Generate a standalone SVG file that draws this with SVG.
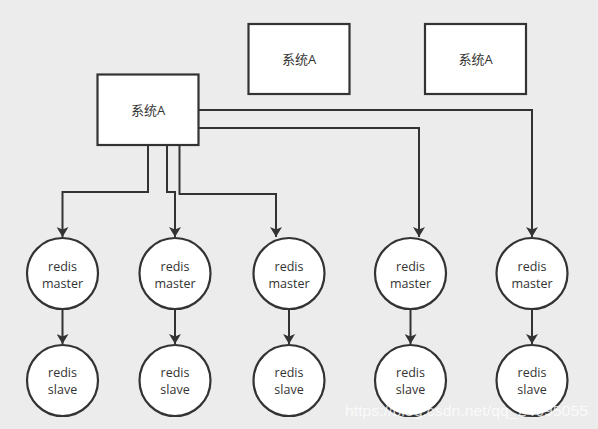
<svg xmlns="http://www.w3.org/2000/svg" width="598" height="429" viewBox="0 0 598 429">
<style>
.box{fill:#fff;stroke:#333;stroke-width:2.2}
.c{fill:#fff;stroke:#333;stroke-width:2.2}
.t{font-family:"Open Sans","Noto Sans CJK SC",sans-serif;font-size:13px;fill:#333;text-anchor:middle}
.m{font-family:"Open Sans",sans-serif;font-size:12.5px;fill:#333;text-anchor:middle}
.e{fill:none;stroke:#333;stroke-width:2}
.wm{font-family:"Liberation Sans",Arial,sans-serif;font-size:15px;fill:#fff;fill-opacity:0.75}
</style>
<defs>
<marker id="ah" viewBox="0 0 10 12" refX="10" refY="6" markerWidth="10" markerHeight="12" markerUnits="userSpaceOnUse" orient="auto">
<path d="M0,0 L10,6 L0,12 L2.5,6 Z" fill="#333"/>
</marker>
</defs>
<rect width="598" height="429" fill="#ececec"/>
<g id="connectors">
<path class="e" d="M148,145 V192 H62.5 V237" marker-end="url(#ah)"/>
<path class="e" d="M167,145 V192 H175 V237" marker-end="url(#ah)"/>
<path class="e" d="M179.5,145 V194 H276 V237" marker-end="url(#ah)"/>
<path class="e" d="M198.5,128 H419 V237" marker-end="url(#ah)"/>
<path class="e" d="M198.5,110 H532 V237" marker-end="url(#ah)"/>
<path class="e" d="M62.5,309 V344" marker-end="url(#ah)"/>
<path class="e" d="M175,309 V344" marker-end="url(#ah)"/>
<path class="e" d="M289,309 V344" marker-end="url(#ah)"/>
<path class="e" d="M410.5,309 V344" marker-end="url(#ah)"/>
<path class="e" d="M532,309 V344" marker-end="url(#ah)"/>
</g>
<g id="sysA_main"><rect class="box" x="97.5" y="74.5" width="101" height="70.5"/><text class="t" x="148" y="114.5">系统A</text></g>
<g id="sysA_2"><rect class="box" x="248.5" y="24" width="101" height="70"/><text class="t" x="299" y="64">系统A</text></g>
<g id="sysA_3"><rect class="box" x="425" y="24" width="101" height="70"/><text class="t" x="475.5" y="64">系统A</text></g>
<g id="master1"><circle class="c" cx="62.5" cy="273.5" r="35.5"/><text class="m" x="62.5" y="270.5">redis</text><text class="m" x="62.5" y="287.5">master</text></g>
<g id="master2"><circle class="c" cx="175" cy="273.5" r="35.5"/><text class="m" x="175" y="270.5">redis</text><text class="m" x="175" y="287.5">master</text></g>
<g id="master3"><circle class="c" cx="289" cy="273.5" r="35.5"/><text class="m" x="289" y="270.5">redis</text><text class="m" x="289" y="287.5">master</text></g>
<g id="master4"><circle class="c" cx="410.5" cy="273.5" r="35.5"/><text class="m" x="410.5" y="270.5">redis</text><text class="m" x="410.5" y="287.5">master</text></g>
<g id="master5"><circle class="c" cx="532" cy="273.5" r="35.5"/><text class="m" x="532" y="270.5">redis</text><text class="m" x="532" y="287.5">master</text></g>
<g id="slave1"><circle class="c" cx="62.5" cy="380.5" r="35.5"/><text class="m" x="62.5" y="376.5">redis</text><text class="m" x="62.5" y="393.5">slave</text></g>
<g id="slave2"><circle class="c" cx="175" cy="380.5" r="35.5"/><text class="m" x="175" y="376.5">redis</text><text class="m" x="175" y="393.5">slave</text></g>
<g id="slave3"><circle class="c" cx="289" cy="380.5" r="35.5"/><text class="m" x="289" y="376.5">redis</text><text class="m" x="289" y="393.5">slave</text></g>
<g id="slave4"><circle class="c" cx="410.5" cy="380.5" r="35.5"/><text class="m" x="410.5" y="376.5">redis</text><text class="m" x="410.5" y="393.5">slave</text></g>
<g id="slave5"><circle class="c" cx="532" cy="380.5" r="35.5"/><text class="m" x="532" y="376.5">redis</text><text class="m" x="532" y="393.5">slave</text></g>
<text class="wm" x="345" y="416" textLength="243" lengthAdjust="spacingAndGlyphs">https://blog.csdn.net/qq_24095055</text>
</svg>
